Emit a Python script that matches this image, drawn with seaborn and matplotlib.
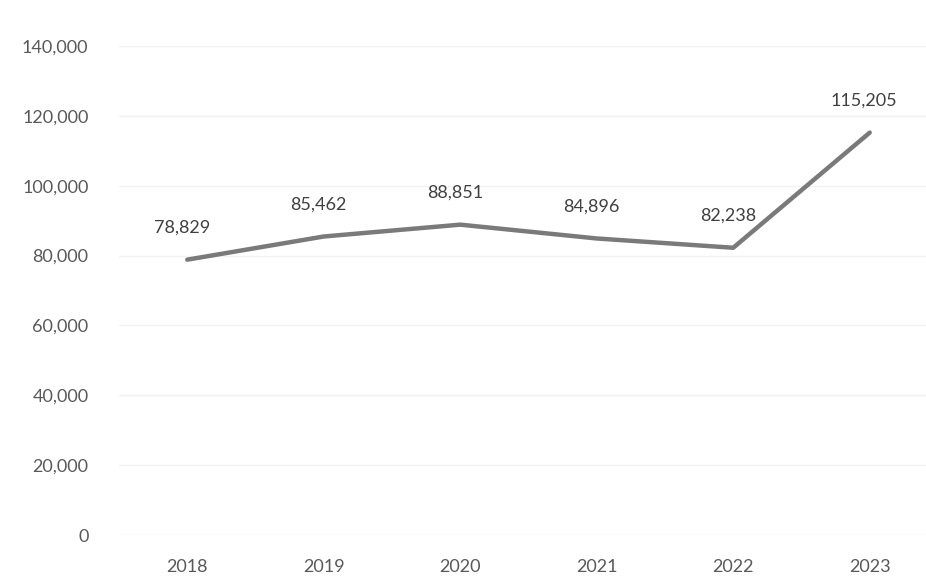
import matplotlib.pyplot as plt
import seaborn as sns
import pandas as pd
from matplotlib.ticker import FuncFormatter

years = ['2018', '2019', '2020', '2021', '2022', '2023']
values = [78829, 85462, 88851, 84896, 82238, 115205]
y_ticks = [0, 20000, 40000, 60000, 80000, 100000, 120000, 140000]

df = pd.DataFrame({'year': years, 'value': values})

sns.set_theme(style='white')
plt.rcParams['font.family'] = ['Lato', 'DejaVu Sans']

fig = plt.figure(figsize=(9.26, 5.77), dpi=100)
# category axis with half-step padding, right edge runs slightly off the image
ax = fig.add_axes([119 / 926, 1 - 535 / 577, 819 / 926, 489 / 577])

x = list(range(len(years)))
sns.lineplot(x=x, y=df['value'], ax=ax, color='#7a7a7a', linewidth=3.2)

for xi, v in zip(x, values):
    ax.annotate(f'{v:,}', (xi, v), xytext=(-4, 23), textcoords='offset points',
                ha='center', va='center', fontsize=13, color='#404040')

ax.set_xlim(-0.5, len(years) - 0.5)
ax.set_ylim(0, 140000)
ax.set_xticks(x)
ax.set_xticklabels(years)
ax.set_yticks(y_ticks)
ax.yaxis.set_major_formatter(FuncFormatter(lambda v, p: f'{int(v):,}'))
ax.tick_params(axis='both', labelsize=13, colors='#595959', length=0)
ax.tick_params(axis='y', pad=22)
ax.tick_params(axis='x', pad=17)
ax.grid(axis='y', color='#f2f2f2', linewidth=1)
ax.set_xlabel('')
ax.set_ylabel('')
for s in ax.spines.values():
    s.set_visible(False)

fig.savefig('out.png', dpi=100)
